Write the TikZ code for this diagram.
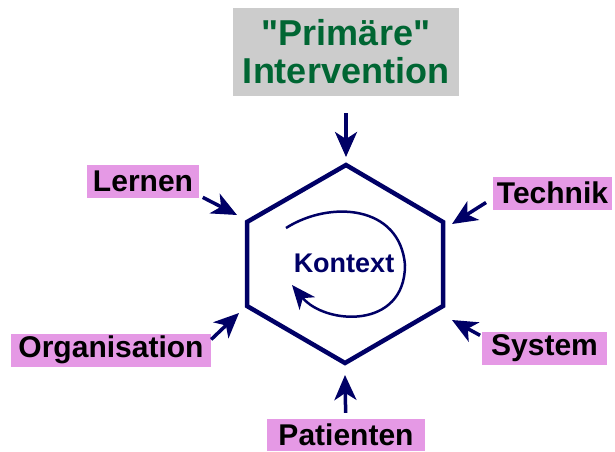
\documentclass[tikz,border=0pt]{standalone}
\usepackage{fontspec}
\setmainfont{Liberation Sans}[Ligatures=TeXOff]
\usetikzlibrary{arrows.meta}
\definecolor{navy}{RGB}{0,0,102}
\definecolor{grau}{RGB}{204,204,204}
\definecolor{gruen}{RGB}{0,102,51}
\definecolor{rosa}{RGB}{229,153,229}

\begin{document}
\begin{tikzpicture}[x=1pt,y=-1pt]
\tikzset{faktor/.style={fill=rosa,font=\bfseries\fontsize{30}{30}\selectfont,inner sep=0pt,minimum height=33pt}}
\tikzset{pfeil/.style={navy,line width=3.5pt,-{Stealth[length=25pt,width=22pt,inset=7pt]}}}
\useasboundingbox (0,0) rectangle (615,451);

\node[fill=grau,text=gruen,font=\bfseries\fontsize{36}{38}\selectfont,align=center,
  minimum width=226pt,minimum height=88pt,inner sep=0pt] (prim) at (346,52) {"Primäre"\\Intervention};

\coordinate (h1) at (346,165);
\coordinate (h2) at (443,222);
\coordinate (h3) at (443,306);
\coordinate (h4) at (345,363);
\coordinate (h5) at (247,306);
\coordinate (h6) at (247,222);
\draw[navy,line width=4.5pt,line join=miter] (h1) -- (h2) -- (h3) -- (h4) -- (h5) -- (h6) -- cycle;

\node[text=navy,font=\bfseries\fontsize{27}{27}\selectfont] (kontext) at (344,263) {Kontext};
\draw[navy,line width=2.5pt,-{Stealth[length=24pt,width=20pt,inset=7pt]}]
  (286,228) .. controls (330,200) and (400,205) .. (405,265)
  .. controls (405,330) and (325,325) .. (292,285);

\node[faktor,minimum width=112pt] (lernen) at (143,181.5) {Lernen};
\node[faktor,minimum width=119pt] (technik) at (552.5,193) {Technik};
\node[faktor,minimum width=200pt] (organisation) at (111,350) {Organisation};
\node[faktor,minimum width=125pt] (system) at (544.5,348.5) {System};
\node[faktor,minimum width=158pt,minimum height=32pt] (patienten) at (346,435) {Patienten};

\coordinate (t-oben) at (346,157);
\coordinate (t-lernen) at (237,215);
\coordinate (t-technik) at (452,224);
\coordinate (t-organisation) at (239,313);
\coordinate (t-system) at (452,320);
\coordinate (t-patienten) at (345,375);

\draw[pfeil,shorten <=17pt] (prim) -- (t-oben);
\draw[pfeil,shorten <=4pt] (lernen.346) -- (t-lernen);
\draw[pfeil,shorten <=8pt] (technik.185) -- (t-technik);
\draw[pfeil] (organisation.6) -- (t-organisation);
\draw[pfeil,shorten <=2pt] (system.169) -- (t-system);
\draw[pfeil,shorten <=6pt] (patienten) -- (t-patienten);
\end{tikzpicture}
\end{document}
